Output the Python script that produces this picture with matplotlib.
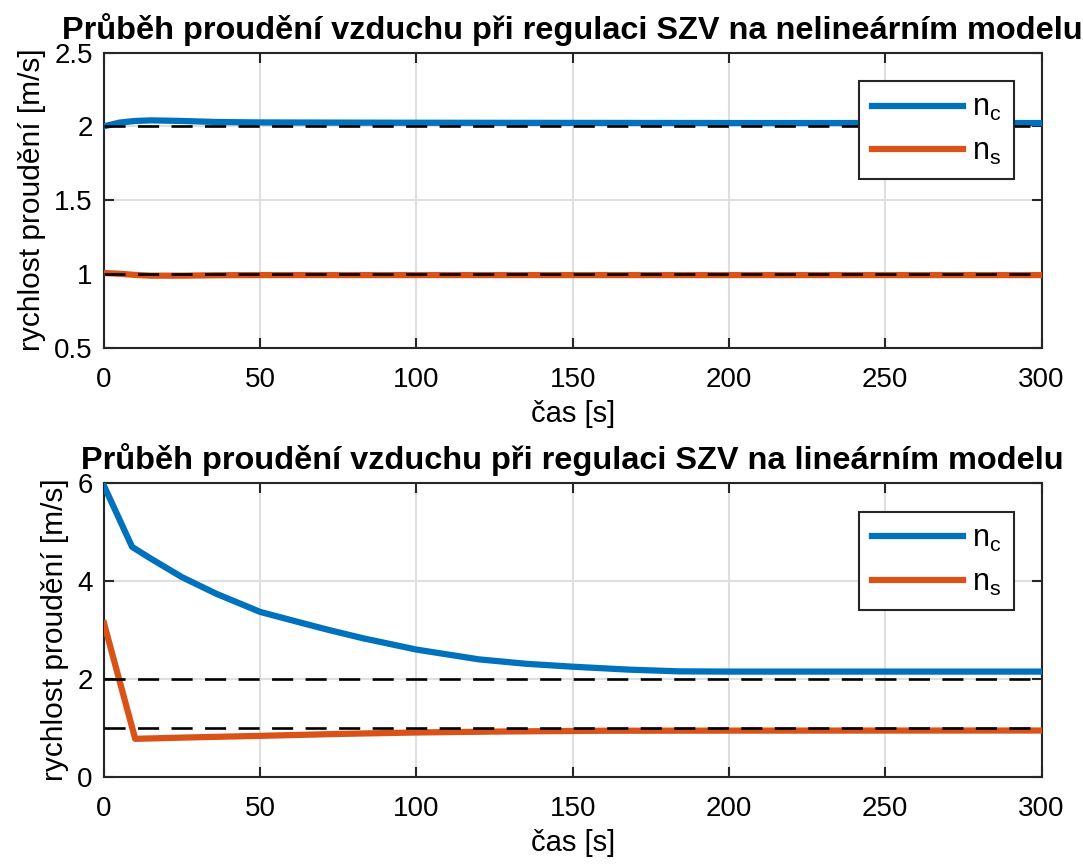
import matplotlib
matplotlib.use("Agg")
from matplotlib import pyplot as plt
from matplotlib import font_manager

# nelinearni model (horni graf)
t_nl = [0, 5, 10, 15, 25, 36, 50, 95, 200, 300]
nc_nl = [2.0, 2.025, 2.036, 2.04, 2.036, 2.029, 2.026, 2.024, 2.022, 2.022]
ns_nl = [1.005, 1.0, 0.992, 0.987, 0.987, 0.99, 0.991, 0.991, 0.991, 0.991]

# linearni model (dolni graf)
t_lin_c = [0, 9, 15, 25, 36, 50, 63, 72, 83, 100, 120, 135, 150, 168, 184, 200, 300]
nc_lin = [5.95, 4.70, 4.46, 4.08, 3.74, 3.37, 3.15, 3.00, 2.83, 2.60, 2.40, 2.31, 2.25, 2.19, 2.155, 2.15, 2.15]
t_lin_s = [0, 10, 25, 50, 75, 100, 127, 159, 200, 300]
ns_lin = [3.14, 0.775, 0.80, 0.836, 0.875, 0.905, 0.925, 0.94, 0.943, 0.945]

ref_c = 2.0
ref_s = 1.0

titles = ["Průběh proudění vzduchu při regulaci SZV na nelineárním modelu",
          "Průběh proudění vzduchu při regulaci SZV na lineárním modelu"]
xlab = "čas [s]"
ylab = "rychlost proudění [m/s]"
legend_labels = ["$\\mathregular{n_c}$", "$\\mathregular{n_s}$"]

names = {f.name for f in font_manager.fontManager.ttflist}
fam = "Liberation Sans Narrow" if "Liberation Sans Narrow" in names else "Liberation Sans"
plt.rcParams['font.family'] = [fam, 'DejaVu Sans']
plt.rcParams['mathtext.fontset'] = 'custom'
plt.rcParams['mathtext.rm'] = fam

blue = "#0072BD"
orange = "#D95319"
axcol = "#262626"

dpi = 100
fig = plt.figure(figsize=(1083 / dpi, 864 / dpi), dpi=dpi)
ax1 = fig.add_axes([0.0960, 0.5978, 0.8657, 0.3414])
ax2 = fig.add_axes([0.0960, 0.1010, 0.8657, 0.3396])

series = [
    (ax1, t_nl, nc_nl, t_nl, ns_nl, (0.5, 2.5), [0.5, 1, 1.5, 2, 2.5], ["0.5", "1", "1.5", "2", "2.5"]),
    (ax2, t_lin_c, nc_lin, t_lin_s, ns_lin, (0, 6), [0, 2, 4, 6], ["0", "2", "4", "6"]),
]

for i, (ax, tc, nc, ts, ns, ylim, yt, ytl) in enumerate(series):
    ax.plot(tc, nc, color=blue, lw=4.5, label=legend_labels[0], solid_joinstyle='round', zorder=3)
    ax.plot(ts, ns, color=orange, lw=4.5, label=legend_labels[1], solid_joinstyle='round', zorder=3)
    for r in (ref_c, ref_s):
        ax.axhline(r, color="black", lw=1.9, dashes=(8, 4.7), zorder=4)
    ax.set_xlim(0, 300)
    ax.set_ylim(*ylim)
    ax.set_xticks([0, 50, 100, 150, 200, 250, 300])
    ax.set_yticks(yt)
    ax.set_yticklabels(ytl)
    ax.grid(True, color="#dfdfdf", lw=1.5, zorder=0)
    ax.set_axisbelow(True)
    ax.tick_params(direction='in', length=7, width=1.5, colors=axcol, labelcolor="black",
                   labelsize=20, top=True, right=True)
    ax.tick_params(axis='x', pad=14)
    ax.tick_params(axis='y', pad=8)
    for s in ax.spines.values():
        s.set_color(axcol)
        s.set_linewidth(1.5)
    ax.set_title(titles[i], fontsize=23.4, fontweight='bold', pad=10)
    ax.set_xlabel(xlab, fontsize=21, labelpad=5)
    ax.set_ylabel(ylab, fontsize=21.5, labelpad=6)
    leg = ax.legend(loc='upper right', bbox_to_anchor=(0.9707, 0.9034), borderaxespad=0,
                    fontsize=22, handlelength=3.0, handletextpad=0.3, labelspacing=0.45,
                    fancybox=False, framealpha=1, borderpad=0.4)
    leg.get_frame().set_edgecolor(axcol)
    leg.get_frame().set_linewidth(1.5)

fig.savefig("out.png", dpi=dpi)
